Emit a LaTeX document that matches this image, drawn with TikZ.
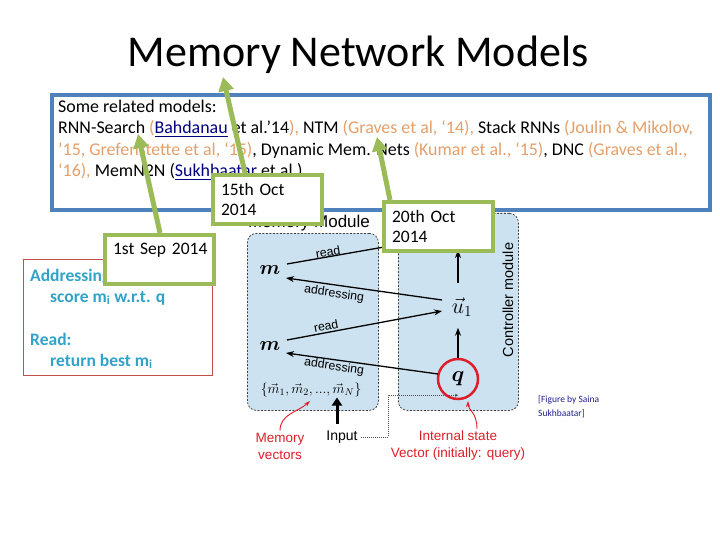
\RequirePackage{fix-cm}
\documentclass[tikz,border=0pt]{standalone}
\usepackage{amsmath}
\usepackage{fontspec}
\setmainfont{Carlito}
\newfontfamily\arialf{Liberation Sans}
\usetikzlibrary{arrows.meta,calc}
\definecolor{bluebox}{RGB}{79,129,189}
\definecolor{greenb}{RGB}{155,187,89}
\definecolor{orangetxt}{RGB}{228,160,108}
\definecolor{linkblue}{RGB}{0,0,128}
\definecolor{tealc}{RGB}{49,163,201}
\definecolor{redbox}{RGB}{192,80,77}
\definecolor{figred}{RGB}{220,30,40}
\definecolor{modfill}{RGB}{204,226,240}
\definecolor{footc}{RGB}{32,32,140}
\newcommand{\ora}[1]{{\color{orangetxt}#1}}
\newcommand{\lnk}[1]{{\color{linkblue}\underline{#1}}}
\begin{document}
\begin{tikzpicture}[x=1pt,y=-1pt,
  slide/.style={font=\fontsize{17.9}{21}\selectfont, inner sep=0, anchor=base west},
  gbox/.style={draw=greenb, line width=4pt, fill=white, font=\fontsize{17.5}{20.5}\selectfont, align=left, inner xsep=8pt, anchor=north west, minimum height=49pt, text width=93pt},
  garrow/.style={draw=greenb, line width=5pt, -{Triangle[length=14pt,width=15pt]}},
  modbox/.style={draw=black!75, dash pattern=on 2pt off 1.5pt, fill=modfill, rounded corners=9pt, line width=0.8pt, anchor=north west, inner sep=0},
  flab/.style={font=\arialf\fontsize{12.3}{14}\selectfont, inner sep=0},
  farrow/.style={-{Stealth[length=8pt,width=6pt]}, line width=1.3pt},
  redlab/.style={font=\arialf\fontsize{13.5}{17}\selectfont, text=figred, align=center, inner sep=0},
  tealtxt/.style={font=\bfseries\fontsize{17.5}{20}\selectfont, text=tealc, inner sep=0, anchor=base west},
]
\useasboundingbox (0,0) rectangle (720,540);
% title
\node[font=\fontsize{44}{50}\selectfont, inner sep=0, anchor=base] (title) at (358,67) {Memory Network Models};
% blue box
\node[draw=bluebox, line width=4pt, fill=white, minimum width=658pt, minimum height=115pt, anchor=north west, inner sep=0] (bluebx) at (50,93) {};
\node[slide] (l1) at (58,113) {Some related models:};
\node[slide] (l2) at (58,134) {RNN-Search \ora{(}\lnk{Bahdanau} et al.’14\ora{),} NTM \ora{(Graves et al, ‘14),} Stack RNNs \ora{(Joulin \& Mikolov,}};
\node[slide] (l3) at (58,156) {\ora{’15, Grefenstette et al, ‘15)}, Dynamic Mem. Nets \ora{(Kumar et al., ‘15)}, DNC \ora{(Graves et al.,}};
\node[slide] (l4) at (58,177) {\ora{‘16),} MemN2N (\lnk{Sukhbaatar} et al.)};
% memory figure
\node[modbox, minimum width=131pt, minimum height=177pt] (memmod) at (247,233) {};
\node[modbox, minimum width=120pt, minimum height=197pt] (ctrlmod) at (398,213) {};
\node[font=\arialf\fontsize{17}{20}\selectfont, inner sep=0] (memtitle) at (309,223) {Memory Module};
\node[rotate=90, font=\arialf\fontsize{14.5}{17}\selectfont, inner sep=0] (ctrltitle) at (508,300) {Controller module};
\node[font=\fontsize{20}{24}\selectfont, inner sep=0] (m1) at (270,270) {$\boldsymbol{m}$};
\node[font=\fontsize{20}{24}\selectfont, inner sep=0] (m2) at (270,346) {$\boldsymbol{m}$};
\node[font=\fontsize{22}{26}\selectfont, inner sep=0] (u1) at (462,307) {$\vec{u}_1$};
\node[draw=figred, circle, line width=2.5pt, minimum size=40pt, inner sep=0, font=\fontsize{22}{26}\selectfont] (q) at (458,379) {$\boldsymbol{q}$};
\node[font=\fontsize{14}{17}\selectfont, inner sep=0] (mset) at (311,390) {$\{\vec m_1, \vec m_2, ..., \vec m_N\}$};
\coordinate (rd1) at (430,239);
\draw[line width=1.3pt] ($(m1)+(17,-6)$) -- (rd1);
\draw[farrow] ($(u1)+(-20,-7)$) -- ($(m1)+(16,8)$);
\draw[farrow] ($(m2)+(17,-6)$) -- ($(u1)+(-20,4)$);
\draw[farrow] ($(q)+(-20,-5)$) -- ($(m2)+(16,7)$);
\draw[farrow] (q.north) -- ($(q.north)+(0,-30)$);
\draw[farrow] ($(u1)+(-4,-24)$) -- ($(u1)+(-4,-57)$);
\node[flab, rotate=10] (rlab1) at (328,252) {read};
\node[flab, rotate=-8] (alab1) at (334,294) {addressing};
\node[flab, rotate=11] (rlab2) at (326,326) {read};
\node[flab, rotate=-8] (alab2) at (334,367) {addressing};
% bottom labels
\node[redlab] (memvec) at (280,446) {Memory\\vectors};
\node[font=\arialf\fontsize{14}{17}\selectfont, inner sep=0] (input) at (342,437) {Input};
\node[redlab] (internal) at (458,446) {Internal state\\Vector (initially: query)};
\draw[line width=3pt, -{Triangle[length=8pt,width=10pt]}] ($(input.north)+(-5,-7)$) -- ($(input.north)+(-5,-33)$);
\draw[black!70, dash pattern=on 1pt off 1pt, line width=0.7pt, -{Stealth[length=3pt,width=3pt]}] ($(input.east)+(3,0)$) -- (388,437) |- ($(q.south)+(0,-5)$);
\draw[figred, line width=0.9pt, -{Stealth[length=6pt,width=4pt]}] ($(memvec.north)+(0,-2)$) .. controls (280,414) and (298,412) .. (310,401);
\draw[figred, line width=0.9pt, -{Stealth[length=6pt,width=4pt]}] ($(internal.north)+(19,-2)$) .. controls (477,412) and (468,410) .. (468,401);
\node[font=\fontsize{9.5}{14}\selectfont, text=footc, align=left, inner sep=0, anchor=north west] (foot) at (538,395) {[Figure by Saina\\Sukhbaatar]};
% red box
\node[draw=redbox, line width=1pt, fill=white, minimum width=189pt, minimum height=116pt, anchor=north west, inner sep=0] (redb) at (23,259) {};
\node[tealtxt] (t1) at (30,281) {Addressing:};
\node[tealtxt] (t2) at (50,302) {score m\textsubscript{i} w.r.t. q};
\node[tealtxt] (t3) at (30,345) {Read:};
\node[tealtxt] (t4) at (50,366) {return best m\textsubscript{i}};
% green callouts
\coordinate (tipsep) at (138,134);
\coordinate (tip15) at (223,77);
\coordinate (tip20) at (377,137);
\node[gbox] (sep) at (103,233) {\mbox{1st Sep 2014}\\\mbox{}};
\node[gbox] (oct15) at (211,173) {15th Oct\\2014};
\node[gbox] (oct20) at (382,200) {20th Oct\\2014};
\draw[garrow] ($(sep.north west)+(57,0)$) -- (tipsep);
\draw[garrow] ($(oct15.north west)+(34,0)$) -- (tip15);
\draw[garrow] ($(oct20.north west)+(8,0)$) -- (tip20);
\node[gbox] at (103,233) {\mbox{1st Sep 2014}\\\mbox{}};
\node[gbox] at (211,173) {15th Oct\\2014};
\node[gbox] at (382,200) {20th Oct\\2014};
\end{tikzpicture}
\end{document}
